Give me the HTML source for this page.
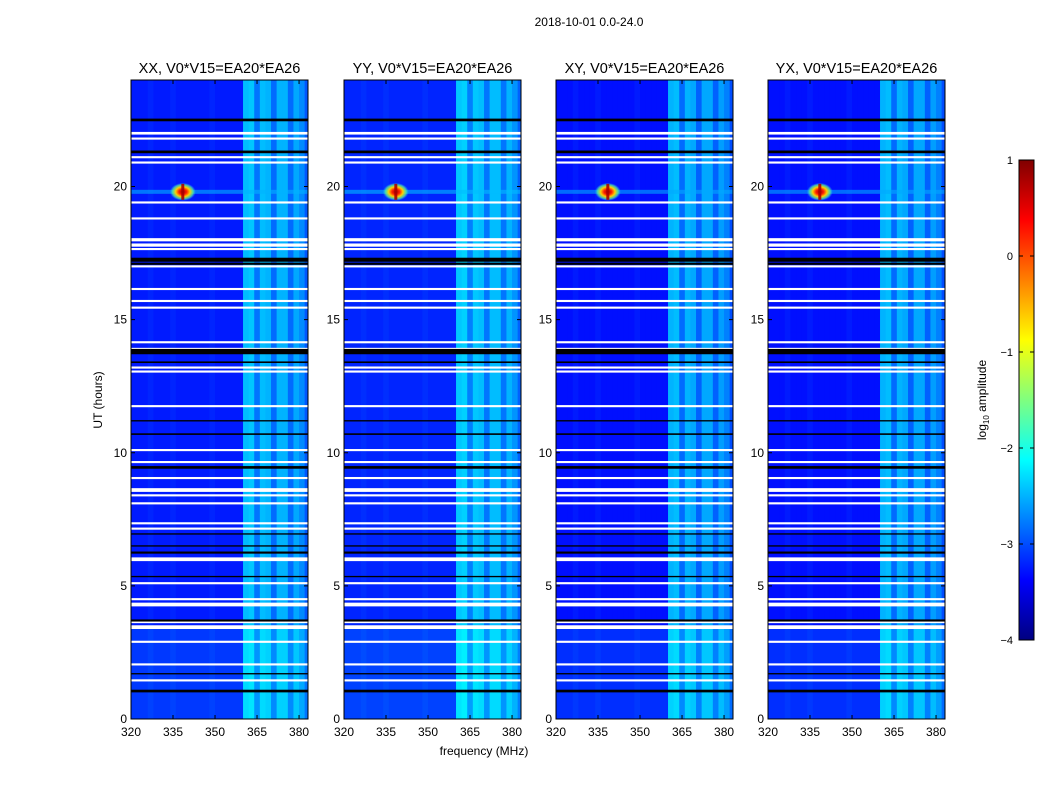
<!DOCTYPE html>
<html><head><meta charset="utf-8">
<style>
body{margin:0;background:#fff;}
svg{display:block;font-family:"Liberation Sans",sans-serif;}
</style></head>
<body>
<svg id="fig" width="1050" height="800" viewBox="0 0 1050 800" xmlns="http://www.w3.org/2000/svg">
<defs>
<linearGradient id="jet" x1="0" y1="1" x2="0" y2="0">
<stop offset="0" stop-color="#000080"/><stop offset="0.125" stop-color="#0000ff"/>
<stop offset="0.375" stop-color="#00ffff"/><stop offset="0.625" stop-color="#ffff00"/>
<stop offset="0.875" stop-color="#ff0000"/><stop offset="1" stop-color="#800000"/>
</linearGradient>
<radialGradient id="spike">
<stop offset="0" stop-color="#a00000"/><stop offset="0.3" stop-color="#ff2000"/>
<stop offset="0.55" stop-color="#ffd000"/><stop offset="0.8" stop-color="#60ff90" stop-opacity="0.7"/>
<stop offset="1" stop-color="#30c0ff" stop-opacity="0"/>
</radialGradient>
</defs>
<text x="589" y="26" font-size="12" text-anchor="middle">2018-10-01 0.0-24.0</text>
<g id="panels"></g>
<text x="484" y="755" font-size="12" text-anchor="middle">frequency (MHz)</text>
<text transform="translate(102,400) rotate(-90)" font-size="12" text-anchor="middle">UT (hours)</text>
<g>
<rect x="1019" y="160" width="15" height="480" fill="url(#jet)" stroke="#000" stroke-width="1"/>
<g id="cbticks"></g>
<text transform="translate(986,400) rotate(-90)" font-size="12" text-anchor="middle">log<tspan font-size="8" dy="3">10</tspan><tspan dy="-3"> amplitude</tspan></text>
</g>
</svg>
<script>
// ---- data ----
const panelTitles = ["XX, V0*V15=EA20*EA26","YY, V0*V15=EA20*EA26","XY, V0*V15=EA20*EA26","YX, V0*V15=EA20*EA26"];
const panelOffsets = [0, 0.05, -0.05, -0.05];
const freqBins = [320,322,324,326,328,330,332,334,336,338,340,342,344,346,348,350,352,354,356,358,360,362,364,366,368,370,372,374,376,378,380,382];
const freqLevels = [-3.25,-3.25,-3.25,-3.2,-3.25,-3.25,-3.25,-3.2,-3.25,-3.25,-3.25,-3.25,-3.25,-3.25,-3.2,-3.25,-3.25,-3.25,-3.25,-3.25,-2.45,-2.4,-2.8,-2.45,-2.5,-2.85,-2.5,-2.5,-2.85,-2.55,-2.7,-2.95];
const timeRegions = [[0,3.4,0.15],[3.4,24,0]];
const flaggedRows = [[22.0,0.1],[21.8,0.08],[21.1,0.08],[20.9,0.08],[19.4,0.08],[18.8,0.08],[18.0,0.12],[17.8,0.12],[17.65,0.08],[17.0,0.08],[16.15,0.08],[15.7,0.08],[15.45,0.08],[14.15,0.08],[13.9,0.08],[13.2,0.08],[13.05,0.08],[11.75,0.08],[10.1,0.08],[9.65,0.08],[9.05,0.08],[8.6,0.14],[8.4,0.08],[8.1,0.08],[7.35,0.08],[7.15,0.08],[6.0,0.14],[5.1,0.08],[4.5,0.08],[4.3,0.14],[3.65,0.1],[3.45,0.14],[2.9,0.08],[2.05,0.08],[1.45,0.08]];
const blankRows = [[22.5,0.1],[21.3,0.1],[17.25,0.15],[17.1,0.08],[13.8,0.2],[13.4,0.06],[11.2,0.05],[10.7,0.06],[9.45,0.1],[6.95,0.05],[6.5,0.05],[6.25,0.08],[5.35,0.05],[3.7,0.08],[1.7,0.05],[1.05,0.1]];
const spikeFreq = 338.5, spikeHour = 19.8, spikeLevel = 0.8;
const xTicks = [320,335,350,365,380];
const yTicks = [0,5,10,15,20];
const cbTicks = [1,0,-1,-2,-3,-4];

// ---- scales ----
const panelLefts = [131,344,556,768], PW = 177, PT = 80, PH = 639;
const fMin = 320, fMax = 383.2, tMin = 0, tMax = 24, vMin = -4, vMax = 1;
const xs = (f, L) => L + (f - fMin) / (fMax - fMin) * PW;
const ys = h => PT + PH - (h - tMin) / (tMax - tMin) * PH;
function jet(v){
  let t = Math.max(0, Math.min(1, (v - vMin) / (vMax - vMin)));
  const c = x => Math.round(255*Math.max(0, Math.min(1, 1.5 - Math.abs(4*t - x))));
  return `rgb(${c(3)},${c(2)},${c(1)})`;
}
const NS = "http://www.w3.org/2000/svg";
function mk(tag, attrs, parent){ const e = document.createElementNS(NS, tag); for (const k in attrs) e.setAttribute(k, attrs[k]); parent.appendChild(e); return e; }

const root = document.getElementById('panels');
panelLefts.forEach((L, p) => {
  const g = mk('g', {}, root);
  
  
  const cp = mk('clipPath', {id: 'cp'+p}, g);
  mk('rect', {x: L, y: PT, width: PW, height: PH}, cp);
  const hm = mk('g', {'clip-path': `url(#cp${p})`}, g);
  
  
  timeRegions.forEach(([t0, t1, boost]) => {
    freqBins.forEach((f, i) => {
      const f1 = i + 1 < freqBins.length ? freqBins[i+1] : fMax;
      const x0 = xs(f, L), x1 = xs(f1, L);
      const r = mk('rect', {x: x0, y: ys(t1), width: x1 - x0 + 0.5, height: ys(t0) - ys(t1), fill: jet(freqLevels[i] + panelOffsets[p] + boost)}, hm);
      
      
    });
  });
  const sy = ys(spikeHour);
  const sx = xs(spikeFreq, L);
  const st = mk('rect', {x: L, y: sy - 2, width: PW, height: 4, fill: jet(-2.5 + panelOffsets[p]), opacity: 0.6}, hm);
  
  
  const sp = mk('ellipse', {cx: sx, cy: sy, rx: 13, ry: 9, fill: 'url(#spike)'}, hm);
  
  
  mk('rect', {x: sx - 1.5, y: sy - 8, width: 3, height: 16, fill: jet(spikeLevel), opacity: 0.9}, hm);
  flaggedRows.forEach(([h, d]) => {
    const r = mk('rect', {x: L, y: ys(h + d/2), width: PW, height: Math.max(1.2, ys(h - d/2) - ys(h + d/2)), fill: '#fff'}, hm);
    
    
  });
  blankRows.forEach(([h, d]) => {
    const r = mk('rect', {x: L, y: ys(h + d/2), width: PW, height: Math.max(1, ys(h - d/2) - ys(h + d/2)), fill: '#000'}, hm);
    
    
  });
  const fr = mk('rect', {x: L, y: PT, width: PW, height: PH, fill: 'none', stroke: '#000', 'stroke-width': 1}, g);
  
  
  const tt = mk('text', {x: L + PW/2, y: 73, 'font-size': 14.5, 'text-anchor': 'middle'}, g);
  tt.textContent = panelTitles[p];
  
  
  xTicks.forEach(f => {
    const x = xs(f, L);
    mk('line', {x1: x, x2: x, y1: PT+PH, y2: PT+PH-4, stroke: '#000'}, g);
    mk('line', {x1: x, x2: x, y1: PT, y2: PT+4, stroke: '#000'}, g);
    const t = mk('text', {x: x, y: 736, 'font-size': 12, 'text-anchor': 'middle'}, g);
    t.textContent = f;
    
    
  });
  yTicks.forEach(h => {
    const y = ys(h);
    mk('line', {x1: L, x2: L+4, y1: y, y2: y, stroke: '#000'}, g);
    mk('line', {x1: L+PW, x2: L+PW-4, y1: y, y2: y, stroke: '#000'}, g);
    const t = mk('text', {x: L - 4, y: y + 4, 'font-size': 12, 'text-anchor': 'end'}, g);
    t.textContent = h;
    
    
  });
});
const cbg = document.getElementById('cbticks');
cbTicks.forEach(v => {
  const y = 160 + (vMax - v) / (vMax - vMin) * 480;
  mk('line', {x1: 1019, x2: 1023, y1: y, y2: y, stroke: '#000'}, cbg);
  mk('line', {x1: 1034, x2: 1030, y1: y, y2: y, stroke: '#000'}, cbg);
  const t = mk('text', {x: 1013, y: y + 4, 'font-size': 11, 'text-anchor': 'end'}, cbg);
  t.textContent = v < 0 ? '\u2212' + (-v) : String(v);
  
  
});
</script>
</body></html>
